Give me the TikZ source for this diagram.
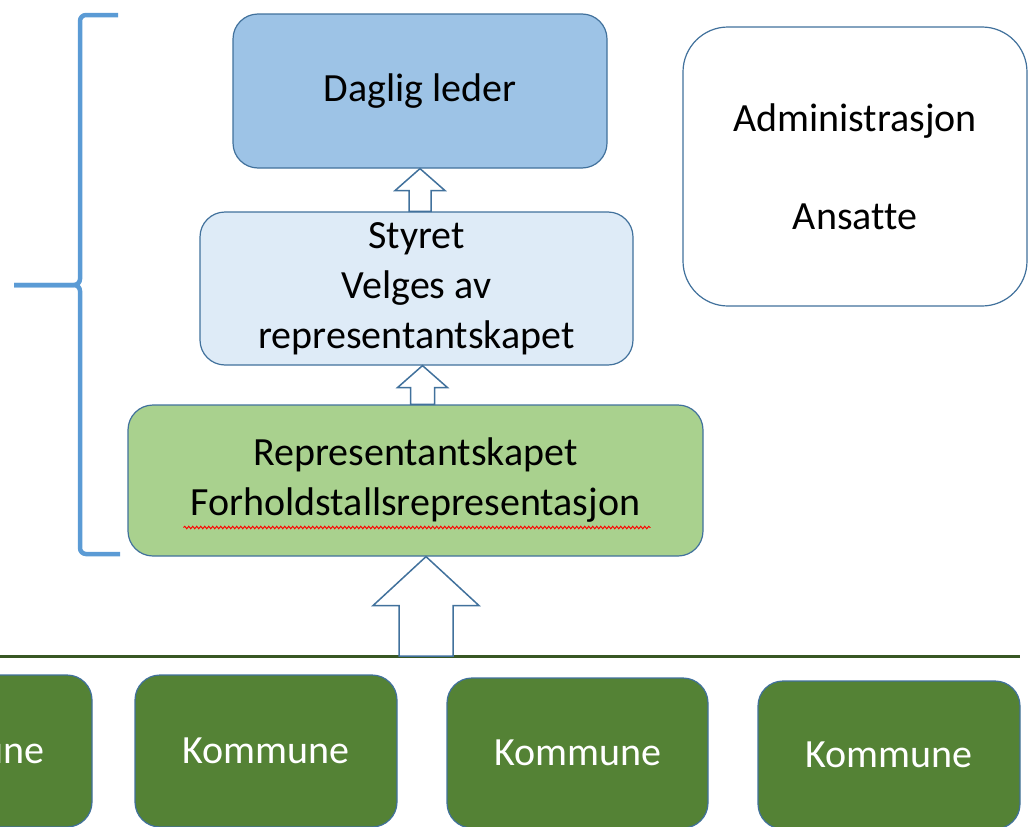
\documentclass[tikz,border=0pt]{standalone}
\usepackage{fontspec}
\setmainfont[Ligatures=CommonOff]{Carlito}
\usetikzlibrary{calc,decorations.pathmorphing}
\definecolor{dagfill}{HTML}{9DC3E6}
\definecolor{styfill}{HTML}{DEEBF7}
\definecolor{repfill}{HTML}{A9D18E}
\definecolor{komfill}{HTML}{548235}
\definecolor{edgeblue}{HTML}{41719C}
\definecolor{bracecol}{HTML}{5B9BD5}
\definecolor{linegreen}{HTML}{385723}
\newcommand{\myblockarrow}[6]{%
  \draw[#6] let \p1=(#1), \p2=(#2) in
   (\x2-#3,\y1) -- (\x2-#3,\y2-#5) -- (\x2-#4,\y2-#5) -- (\x2,\y2)
   -- (\x2+#4,\y2-#5) -- (\x2+#3,\y2-#5) -- (\x2+#3,\y1) -- cycle;}
\begin{document}
\begin{tikzpicture}[x=1pt,y=-1pt,
  box/.style={draw=edgeblue, line width=1.2pt, rounded corners=25pt, align=center,
    font=\fontsize{40}{50}\selectfont, inner sep=0pt},
  kombox/.style={box, fill=komfill, text=white},
  blockarr/.style={draw=edgeblue, fill=white, line width=1.5pt, line join=miter},
  bracestyle/.style={draw=bracecol, line width=4.5pt, rounded corners=6pt},
  baseline/.style={draw=linegreen, line width=3pt},
  squiggle/.style={red, line width=0.9pt, decorate,
    decoration={snake, amplitude=1.3pt, segment length=4pt}}
]
\useasboundingbox (0,0) rectangle (1028,827);
\clip (0,0) rectangle (1028,827);

% upper boxes
\node[box, fill=dagfill, minimum width=374pt, minimum height=154pt] (daglig) at (420,91) {Daglig leder};
\node[box, fill=styfill, minimum width=433pt, minimum height=153pt] (styret) at (416.5,288.5)
  {Styret\\Velges av\\representantskapet};
\node[box, fill=repfill, minimum width=575pt, minimum height=151pt] (rep) at (415.5,480.5)
  {Representantskapet\\Forholdstallsrepresentasjon};
\node[box, fill=white, rounded corners=45pt, minimum width=344pt, minimum height=279pt] (admin) at (855,166.5)
  {Administrasjon\\[48pt]Ansatte};

% spell-check underline
\draw[squiggle] ($(rep.center)+(-232,47)$) -- ($(rep.center)+(235,47)$);

% brace
\draw[bracestyle] (118,15) -- (80,15) -- (80,285) -- (14,285);
\draw[bracestyle] (14,285) -- (80,285) -- (80,554) -- (120,554);

% base line
\coordinate (lineL) at (0,656);
\coordinate (lineR) at (1020,656);
\coordinate (arrowfoot) at (426,656);
\draw[baseline] (lineL) -- (lineR);

% kommune boxes
\node[kombox, minimum width=262pt, minimum height=152pt] (k1) at (-39,751) {Kommune};
\node[kombox, minimum width=262pt, minimum height=152pt] (k2) at (266,751) {Kommune};
\node[kombox, minimum width=261pt, minimum height=150pt] (k3) at (577.5,753) {Kommune};
\node[kombox, minimum width=262pt, minimum height=148pt] (k4) at (889,755) {Kommune};

% block arrows
\myblockarrow{styret.north}{daglig.south}{11pt}{25pt}{22pt}{blockarr}
\myblockarrow{rep.north}{$(styret.south)+(6,0)$}{12pt}{25pt}{22pt}{blockarr}
\myblockarrow{arrowfoot}{$(rep.south)+(10.5,0)$}{27pt}{53pt}{49pt}{blockarr}
\end{tikzpicture}
\end{document}
